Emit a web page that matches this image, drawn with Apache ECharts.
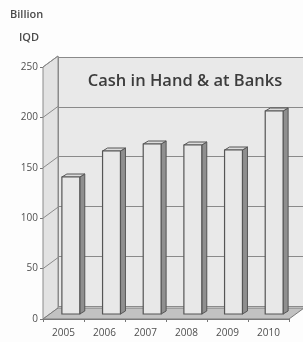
<!DOCTYPE html>
<html>
<head>
<meta charset="utf-8">
<script src="https://cdn.jsdelivr.net/npm/echarts@6/dist/echarts.min.js"></script>
<style>
  html, body { margin: 0; padding: 0; background: #fff; }
  #main { width: 303px; height: 342px; }
</style>
</head>
<body>
<div id="main"></div>
<script>
var years = ['2005', '2006', '2007', '2008', '2009', '2010'];
var cashValues = [137, 163, 170, 169, 164, 203];
var yTicks = [0, 50, 100, 150, 200, 250];

// perspective offset of the back wall (pixels)
var DX = 15, DY = -11;

var dom = document.getElementById('main');
var myChart = echarts.init(dom);

function renderFrame(params, api) {
    var cs = params.coordSys;
    var v = api.value(1);
    var y = api.coord([0, v])[1];
    var children = [];
    if (params.dataIndex === 0) {
        var yTop = api.coord([0, yTicks[yTicks.length - 1]])[1];
        // left side wall
        children.push({
            type: 'polygon',
            shape: { points: [[cs.x, y], [cs.x, yTop], [cs.x + DX, yTop + DY], [cs.x + DX, y + DY]] },
            style: { fill: '#e2e2e2', stroke: '#8a8a8a', lineWidth: 1 }
        });
        // floor
        children.push({
            type: 'polygon',
            shape: { points: [[cs.x, y], [cs.x + cs.width, y], [cs.x + cs.width + DX, y + DY], [cs.x + DX, y + DY]] },
            style: { fill: '#c2c2c2', stroke: '#7a7a7a', lineWidth: 1 }
        });
    } else {
        children.push({
            type: 'line',
            shape: { x1: cs.x, y1: y, x2: cs.x + DX, y2: y + DY },
            style: { stroke: '#8a8a8a', lineWidth: 1 }
        });
    }
    return { type: 'group', children: children };
}

function renderBar(params, api) {
    var top = api.coord([api.value(0), api.value(1)]);
    var base = api.coord([api.value(0), 0]);
    var w = api.size([1, 0])[0] * 0.44;
    var x = top[0] - w / 2;
    var dx = 5, dy = -3;
    return {
        type: 'group',
        children: [
            {
                type: 'polygon',
                shape: { points: [[x + w, top[1]], [x + w + dx, top[1] + dy], [x + w + dx, base[1] + dy], [x + w, base[1]]] },
                style: { fill: '#8f8f8f', stroke: '#555', lineWidth: 1 }
            },
            {
                type: 'polygon',
                shape: { points: [[x, top[1]], [x + dx, top[1] + dy], [x + w + dx, top[1] + dy], [x + w, top[1]]] },
                style: { fill: '#dcdcdc', stroke: '#555', lineWidth: 1 }
            },
            {
                type: 'rect',
                shape: { x: x, y: top[1], width: w, height: base[1] - top[1] },
                style: { fill: '#e8e8e8', stroke: '#555', lineWidth: 1.2 }
            }
        ]
    };
}

var option = {
    backgroundColor: '#fdfdfd',
    animation: false,
    title: [
        { text: 'Billion', left: 5, top: 4, textStyle: { fontFamily: 'Open Sans', fontSize: 11, fontWeight: 600, color: '#4a4a4a' } },
        { text: 'IQD', left: 14, top: 27, textStyle: { fontFamily: 'Open Sans', fontSize: 11, fontWeight: 600, color: '#4a4a4a' } },
        { text: 'Cash in Hand & at Banks', left: 180, top: 68, textAlign: 'center',
          textStyle: { fontFamily: 'Open Sans', fontSize: 16.5, fontWeight: 600, color: '#3c3c3c' } }
    ],
    grid: [
        // back wall
        { left: 58, top: 57, width: 260, height: 249, show: true, backgroundColor: '#e9e9e9', borderWidth: 0 },
        // front axes
        { left: 43, top: 67, width: 246, height: 252 },
        // bars
        { left: 50.5, top: 64, width: 244, height: 250 }
    ],
    xAxis: [
        { type: 'category', gridIndex: 0, data: years, show: false },
        {
            type: 'category', gridIndex: 1, data: years,
            axisLine: { lineStyle: { color: '#777' } },
            axisTick: { show: true, length: 3, interval: 0, lineStyle: { color: '#777' } },
            axisLabel: { margin: 9, fontFamily: 'Open Sans', fontSize: 10, color: '#4f4f4f' }
        },
        { type: 'category', gridIndex: 2, data: years, show: false }
    ],
    yAxis: [
        {
            type: 'value', gridIndex: 0, min: 0, max: 250, interval: 50,
            axisLine: { show: true, lineStyle: { color: '#8a8a8a' } },
            axisTick: { show: false }, axisLabel: { show: false },
            splitLine: { lineStyle: { color: '#8a8a8a', width: 1 } }
        },
        {
            type: 'value', gridIndex: 1, min: 0, max: 250, interval: 50,
            axisLine: { show: true, lineStyle: { color: '#777' } },
            axisTick: { show: true, length: 3, lineStyle: { color: '#777' } },
            axisLabel: { margin: 5, fontFamily: 'Open Sans', fontSize: 10, color: '#4f4f4f' },
            splitLine: { show: false }
        },
        { type: 'value', gridIndex: 2, min: 0, max: 250, interval: 50, show: false, splitLine: { show: false } }
    ],
    series: [
        {
            type: 'custom', name: 'frame', xAxisIndex: 1, yAxisIndex: 1, z: 1,
            renderItem: renderFrame,
            data: yTicks.map(function (v) { return [0, v]; })
        },
        {
            type: 'custom', name: 'Cash in Hand & at Banks', xAxisIndex: 2, yAxisIndex: 2, z: 5,
            renderItem: renderBar,
            data: cashValues.map(function (v, i) { return [i, v]; })
        }
    ]
};

myChart.setOption(option);
</script>
</body>
</html>
